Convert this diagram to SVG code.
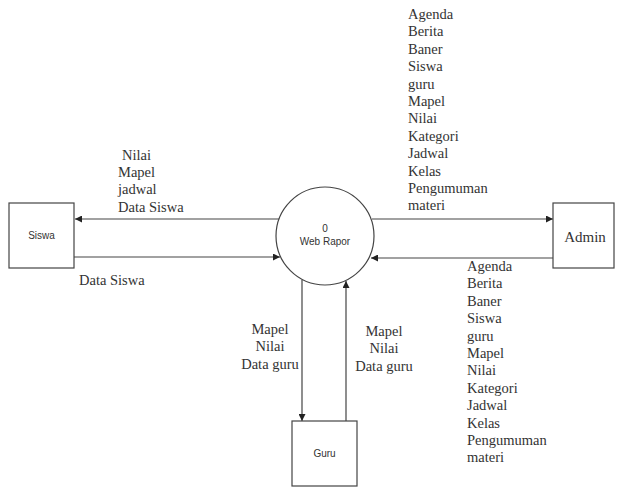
<svg xmlns="http://www.w3.org/2000/svg" width="617" height="487" viewBox="0 0 617 487">
<style>
.box{fill:#fff;stroke:#444;stroke-width:1.2}
.ln{fill:none;stroke:#444;stroke-width:1.2}
.s{font-family:"Liberation Sans",Arial,sans-serif;font-size:10px;fill:#333}
.t{font-family:"Liberation Serif","Times New Roman",serif;font-size:14.5px;fill:#333}
</style>
<defs>
<marker id="ah" viewBox="0 0 10 10" refX="10" refY="5" markerWidth="7" markerHeight="7" markerUnits="userSpaceOnUse" orient="auto">
<path d="M0,0 L10,5 L0,10 z" fill="#222"/>
</marker>
</defs>
<rect width="617" height="487" fill="#fff"/>
<g id="connectors">
<line class="ln" x1="280" y1="219" x2="75" y2="219" marker-end="url(#ah)"/>
<line class="ln" x1="74" y1="257" x2="280" y2="257" marker-end="url(#ah)"/>
<line class="ln" x1="372" y1="219" x2="553" y2="219" marker-end="url(#ah)"/>
<line class="ln" x1="553" y1="258" x2="371" y2="258" marker-end="url(#ah)"/>
<line class="ln" x1="302" y1="280" x2="302" y2="421" marker-end="url(#ah)"/>
<line class="ln" x1="346" y1="421" x2="346" y2="281" marker-end="url(#ah)"/>
<g class="t">
<text x="122" y="160">Nilai</text>
<text x="118" y="177">Mapel</text>
<text x="118" y="194">jadwal</text>
<text x="118" y="212">Data Siswa</text>
<text x="79" y="285">Data Siswa</text>
</g>
<g class="t" text-anchor="middle">
<text x="270" y="334">Mapel</text>
<text x="270" y="351">Nilai</text>
<text x="270" y="369">Data guru</text>
<text x="384" y="336">Mapel</text>
<text x="384" y="353">Nilai</text>
<text x="384" y="371">Data guru</text>
</g>
<g class="t">
<text x="408" y="19">Agenda</text>
<text x="408" y="36.4">Berita</text>
<text x="408" y="53.8">Baner</text>
<text x="408" y="71.2">Siswa</text>
<text x="408" y="88.6">guru</text>
<text x="408" y="106">Mapel</text>
<text x="408" y="123.4">Nilai</text>
<text x="408" y="140.8">Kategori</text>
<text x="408" y="158.2">Jadwal</text>
<text x="408" y="175.6">Kelas</text>
<text x="408" y="193">Pengumuman</text>
<text x="408" y="210.4">materi</text>
</g>
<g class="t">
<text x="467" y="271">Agenda</text>
<text x="467" y="288.4">Berita</text>
<text x="467" y="305.8">Baner</text>
<text x="467" y="323.2">Siswa</text>
<text x="467" y="340.6">guru</text>
<text x="467" y="358">Mapel</text>
<text x="467" y="375.4">Nilai</text>
<text x="467" y="392.8">Kategori</text>
<text x="467" y="410.2">Jadwal</text>
<text x="467" y="427.6">Kelas</text>
<text x="467" y="445">Pengumuman</text>
<text x="467" y="462.4">materi</text>
</g>
</g>
<g id="siswa">
<rect class="box" x="9" y="203" width="65" height="65"/>
<text class="s" x="41.5" y="239" text-anchor="middle">Siswa</text>
</g>
<g id="webrapor">
<circle class="box" cx="325" cy="236" r="49"/>
<text class="s" x="325" y="232" text-anchor="middle">0</text>
<text class="s" x="325" y="245" text-anchor="middle">Web Rapor</text>
</g>
<g id="admin">
<rect class="box" x="553" y="203" width="61" height="65"/>
<text class="t" x="585" y="242" text-anchor="middle" style="font-size:15px">Admin</text>
</g>
<g id="guru">
<rect class="box" x="292" y="421" width="65" height="65"/>
<text class="s" x="324.5" y="457" text-anchor="middle">Guru</text>
</g>
</svg>
